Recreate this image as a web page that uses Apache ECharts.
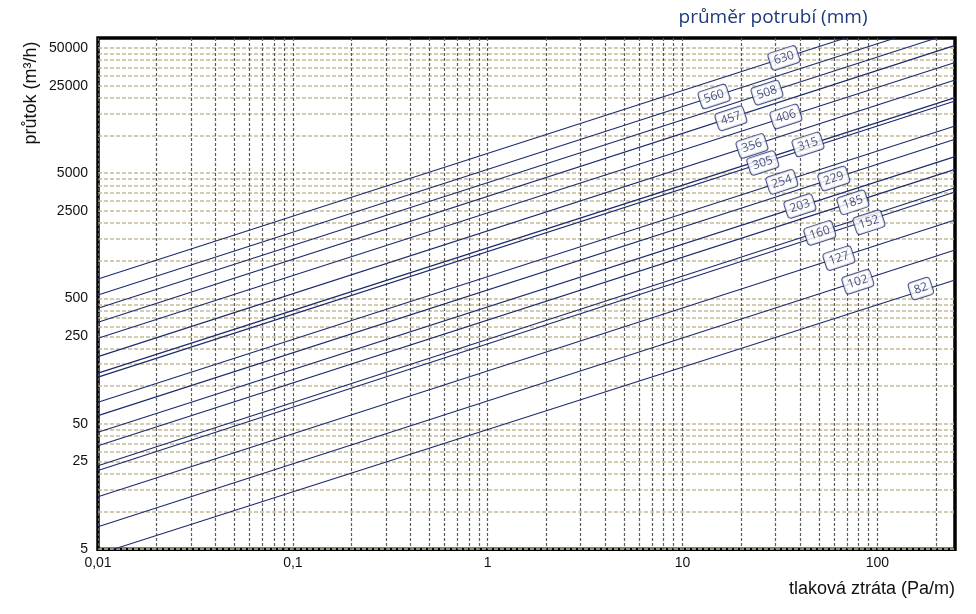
<!DOCTYPE html>
<html>
<head>
<meta charset="utf-8">
<script src="https://cdn.jsdelivr.net/npm/echarts@6/dist/echarts.min.js"></script>
<style>
html,body{margin:0;padding:0;background:#ffffff;}
#c{width:976px;height:614px;}
</style>
</head>
<body>
<div id="c"></div>
<script>
// Pipe diameters (mm)
const diameters = [82, 102, 127, 152, 160, 185, 203, 229, 254, 305, 315, 356, 406, 457, 508, 560, 630];
// Start point of each line (pressure loss Pa/m, flow m3/h)
const startDp = [0.012, 0.01, 0.01, 0.01, 0.01, 0.01, 0.01, 0.01, 0.01, 0.01, 0.01, 0.01, 0.01, 0.01, 0.01, 0.01, 0.01];
const startQ  = [5, 7.56, 13.1, 21.2, 23.2, 33.5, 42.9, 58.2, 74.4, 118, 127, 172, 241, 323, 418, 534, 717];
// End point of each line
const endDp = [250, 250, 250, 250, 250, 250, 250, 250, 250, 250, 250, 250, 250, 250, 200.8, 123.3, 68.6];
const endQ  = [702, 1219, 2116, 3540, 3837, 5370, 6785, 9330, 11900, 18850, 20060, 27700, 38200, 52400, 60000, 60000, 60000];
// Position of each diameter tag
const labelDp = [167, 79.3, 63.4, 90.4, 50.6, 74.8, 40, 59.7, 32.3, 25.8, 44, 22.7, 33.9, 17.7, 27.1, 14.5, 33.1];
const labelQ  = [601, 681, 1050, 2030, 1670, 2930, 2740, 4540, 4270, 6040, 8490, 8260, 14200, 13700, 22000, 20500, 41600];

// Axis ticks / labels
const xTickVals = [0.01, 0.1, 1, 10, 100];
const xTickText = ['0,01', '0,1', '1', '10', '100'];
const yTickVals = [5, 25, 50, 250, 500, 2500, 5000, 25000, 50000];
const yTickText = ['5', '25', '50', '250', '500', '2500', '5000', '25000', '50000'];
// Grid lines
const xGrid = [0.01, 0.02, 0.03, 0.04, 0.05, 0.06, 0.07, 0.08, 0.09,
               0.1, 0.2, 0.3, 0.4, 0.5, 0.6, 0.7, 0.8, 0.9,
               1, 2, 3, 4, 5, 6, 7, 8, 9,
               10, 20, 30, 40, 50, 60, 70, 80, 90,
               100, 200];
const yGrid = [5, 10, 15, 20, 25, 30, 35, 40, 45,
               50, 100, 150, 200, 250, 300, 350, 400, 450,
               500, 1000, 1500, 2000, 2500, 3000, 3500, 4000, 4500,
               5000, 10000, 15000, 20000, 25000, 30000, 35000, 40000, 45000,
               50000];

const xRange = [0.01, 250];
const yRange = [5, 60000];

function lookup(vals, texts, v) {
  for (let i = 0; i < vals.length; i++) {
    if (Math.abs(Math.log10(vals[i]) - Math.log10(v)) < 1e-6) return texts[i];
  }
  return '';
}

const lineColor = '#1c2a6b';
const series = diameters.map((d, i) => ({
  type: 'line',
  name: String(d),
  data: [[startDp[i], startQ[i]], [endDp[i], endQ[i]]],
  showSymbol: false,
  symbol: 'none',
  silent: true,
  clip: true,
  lineStyle: { color: lineColor, width: 1.1 },
  z: 3
}));
series.push({
  type: 'scatter',
  data: diameters.map((d, i) => ({ name: String(d), value: [labelDp[i], labelQ[i]] })),
  symbol: 'circle',
  symbolSize: 0.1,
  itemStyle: { color: 'rgba(0,0,0,0)' },
  silent: true,
  z: 10,
  label: {
    show: true,
    position: 'inside',
    formatter: p => p.name,
    rotate: 18,
    color: '#1a2660',
    fontSize: 12,
    fontFamily: '"Open Sans", "Noto Sans", sans-serif',
    backgroundColor: '#ffffff',
    borderColor: lineColor,
    borderWidth: 1,
    borderRadius: 3,
    padding: [3, 4, 2, 4]
  }
});

const chart = echarts.init(document.getElementById('c'), null, { renderer: 'canvas' });
chart.setOption({
  animation: false,
  backgroundColor: '#ffffff',
  grid: {
    left: 98, top: 38, width: 857, height: 511.2,
    show: true, borderColor: '#000000', borderWidth: 3.5,
    backgroundColor: 'rgba(0,0,0,0)',
    containLabel: false, outerBoundsMode: 'none'
  },
  xAxis: {
    type: 'log', logBase: 10, min: xRange[0], max: xRange[1],
    axisLine: { show: false },
    axisTick: { show: false, customValues: xGrid },
    axisLabel: {
      customValues: xTickVals,
      formatter: v => lookup(xTickVals, xTickText, v),
      color: '#111111', fontSize: 14, fontFamily: '"Liberation Sans", Arial, sans-serif', margin: 7
    },
    splitLine: { show: true, lineStyle: { color: '#5a5a5a', width: 1.2, type: [3, 2] } },
    minorSplitLine: { show: false }
  },
  yAxis: {
    type: 'log', logBase: 10, min: yRange[0], max: yRange[1],
    axisLine: { show: false },
    axisTick: { show: false, customValues: yGrid },
    axisLabel: {
      customValues: yTickVals,
      formatter: v => lookup(yTickVals, yTickText, v),
      color: '#111111', fontSize: 14, fontFamily: '"Liberation Sans", Arial, sans-serif', margin: 10
    },
    splitLine: { show: true, lineStyle: { color: '#c6bc96', width: 1.6, type: [4, 2] } },
    minorSplitLine: { show: false }
  },
  graphic: [
    { type: 'text', x: 773, y: 18, silent: true,
      style: { text: 'průměr potrubí (mm)', fill: '#1d3a7c', font: '19px "Open Sans", "Noto Sans", sans-serif',
               align: 'center', verticalAlign: 'middle', textAlign: 'center', textVerticalAlign: 'middle' } },
    { type: 'text', x: 955, y: 589, silent: true,
      style: { text: 'tlaková ztráta (Pa/m)', fill: '#111111', font: '18px "Liberation Sans", Arial, sans-serif',
               align: 'right', verticalAlign: 'middle', textAlign: 'right', textVerticalAlign: 'middle' } },
    { type: 'text', x: 31, y: 93, rotation: Math.PI / 2, silent: true,
      style: { text: 'průtok (m³/h)', fill: '#111111', font: '18px "Liberation Sans", Arial, sans-serif',
               align: 'center', verticalAlign: 'middle', textAlign: 'center', textVerticalAlign: 'middle' } }
  ],
  series: series
});
</script>
</body>
</html>
